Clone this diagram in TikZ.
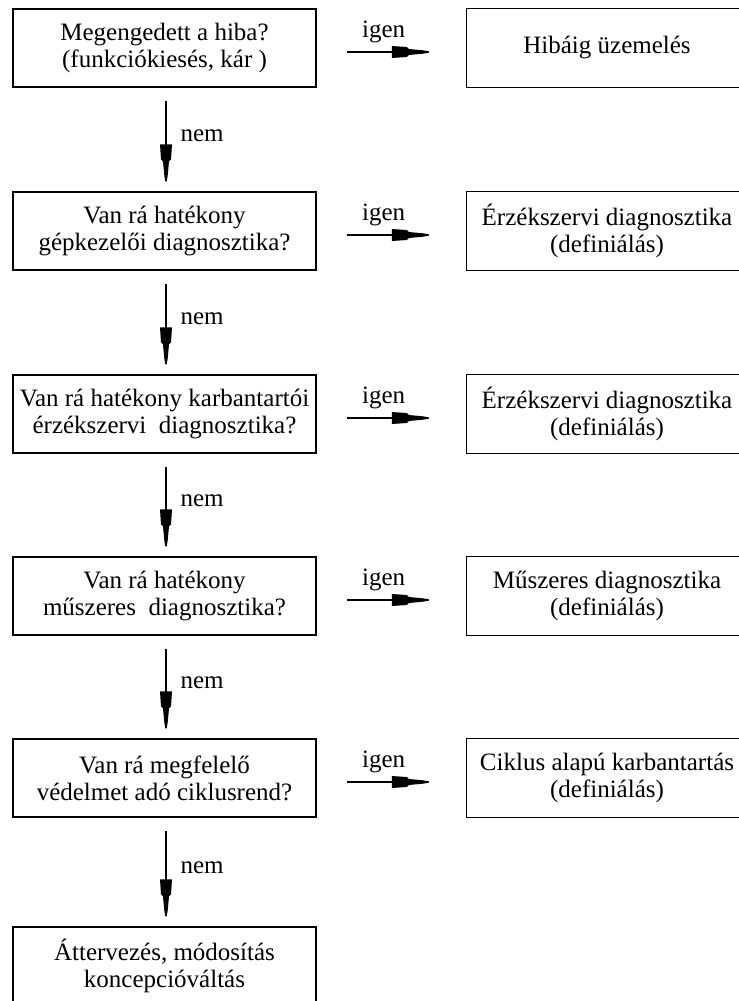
\documentclass[tikz,border=0pt]{standalone}
\usepackage{fontspec}
\setmainfont{Liberation Serif}

% Long tapered arrow head: a wide block followed by a narrow neck
\pgfdeclarearrow{
  name = Taper,
  parameters = {},
  setup code = {
    \pgfarrowssettipend{0pt}
    \pgfarrowssetlineend{-10bp}
    \pgfarrowssetvisualbackend{-37bp}
    \pgfarrowssetbackend{-37bp}
    \pgfarrowshullpoint{0pt}{0pt}
    \pgfarrowsupperhullpoint{-37bp}{6bp}
  },
  drawing code = {
    \pgfpathmoveto{\pgfpoint{0bp}{0.7bp}}
    \pgfpathlineto{\pgfpoint{-6bp}{1.7bp}}
    \pgfpathlineto{\pgfpoint{-20bp}{3bp}}
    \pgfpathlineto{\pgfpoint{-22bp}{5bp}}
    \pgfpathlineto{\pgfpoint{-37bp}{6bp}}
    \pgfpathlineto{\pgfpoint{-37bp}{-6bp}}
    \pgfpathlineto{\pgfpoint{-22bp}{-5bp}}
    \pgfpathlineto{\pgfpoint{-20bp}{-3bp}}
    \pgfpathlineto{\pgfpoint{-6bp}{-1.7bp}}
    \pgfpathlineto{\pgfpoint{0bp}{-0.7bp}}
    \pgfpathclose
    \pgfusepathqfill
  }
}

\begin{document}
\begin{tikzpicture}[x=1bp,y=-1bp,
  txt/.style={inner sep=0pt, minimum height=78bp, align=center,
              font=\fontsize{25bp}{27bp}\selectfont},
  qbox/.style={txt, draw, line width=1.2bp, minimum width=303bp},
  abox/.style={txt, minimum width=280bp},
  frame/.style={line width=1.2bp},
  flow/.style={-Taper, line width=1.2bp},
  lbl/.style={font=\fontsize{25bp}{27bp}\selectfont, inner sep=0pt}
]
\path[use as bounding box] (0,0) rectangle (739,1001);
\clip (0,0) rectangle (739,1001);

% question column
\node[qbox] (q1) at (164.5,48)  {Megengedett a hiba?\\(funkciókiesés, kár )};
\node[qbox] (q2) at (164.5,231) {Van rá hatékony\\gépkezelői diagnosztika?};
\node[qbox] (q3) at (164.5,414) {Van rá hatékony karbantartói\\ érzékszervi\ \ diagnosztika?};
\node[qbox] (q4) at (164.5,596) {Van rá hatékony\\ műszeres\ \ diagnosztika?};
\node[qbox] (q5) at (164.5,778) {Van rá megfelelő\\védelmet adó ciklusrend?};
\node[qbox] (q6) at (164.5,966) {Áttervezés, módosítás\\koncepcióváltás};

% answer column (boxes run on past the right edge)
\node[abox] (a1) at (607,48)  {Hibáig üzemelés};
\node[abox] (a2) at (607,231) {Érzékszervi diagnosztika\\(definiálás)};
\node[abox] (a3) at (607,414) {Érzékszervi diagnosztika\\(definiálás)};
\node[abox] (a4) at (607,596) {Műszeres diagnosztika\\(definiálás)};
\node[abox] (a5) at (607,778) {Ciklus alapú karbantartás\\(definiálás)};
\foreach \i in {1,...,5}{
  \draw[frame] ([xshift=20bp]a\i.north east) -- (a\i.north west)
               -- (a\i.south west) -- ([xshift=20bp]a\i.south east);
}

% "igen" branches
\foreach \i in {1,...,5}{
  \draw[flow] ([xshift=30bp,yshift=-4bp]q\i.east) -- ([xshift=-38bp,yshift=-4bp]a\i.west)
    node[lbl, pos=0.45, anchor=base, yshift=15bp] {igen};
}

% "nem" branches
\foreach \i/\j in {1/2,2/3,3/4,4/5,5/6}{
  \draw[flow] ([xshift=1.5bp,yshift=-13bp]q\i.south) -- ([xshift=1.5bp,yshift=10bp]q\j.north)
    node[lbl, midway, anchor=base west, xshift=14bp] {nem};
}
\end{tikzpicture}
\end{document}
